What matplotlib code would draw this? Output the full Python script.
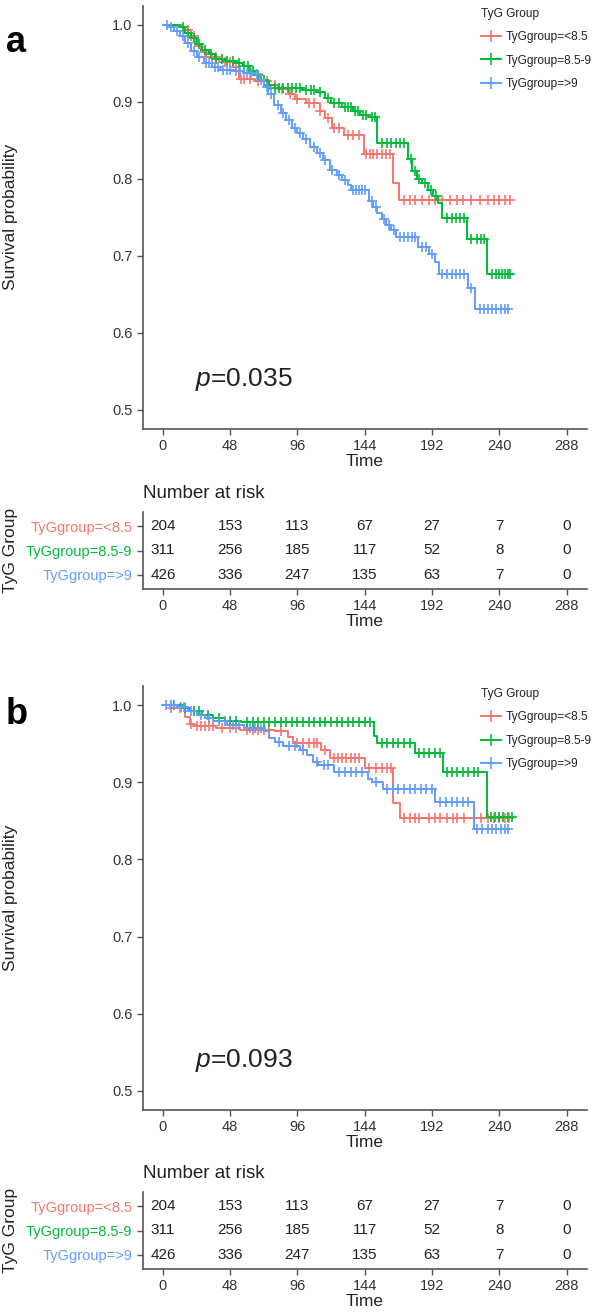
import numpy as np
import matplotlib
matplotlib.use("Agg")
import matplotlib.pyplot as plt
from matplotlib.lines import Line2D

plt.rcParams['font.family'] = ['Liberation Sans', 'DejaVu Sans']
plt.rcParams['mathtext.fontset'] = 'custom'
plt.rcParams['mathtext.rm'] = 'Liberation Sans'
plt.rcParams['mathtext.it'] = 'Liberation Sans:italic'

# ---- data ----
groups = ['TyGgroup=<8.5', 'TyGgroup=8.5-9', 'TyGgroup=>9']
colors = ['#F8766D', '#00BA38', '#619CFF']
time_ticks = [0, 48, 96, 144, 192, 240, 288]
surv_ticks = [0.5, 0.6, 0.7, 0.8, 0.9, 1.0]
risk = [[204, 153, 113, 67, 27, 7, 0],
        [311, 256, 185, 117, 52, 8, 0],
        [426, 336, 247, 135, 63, 7, 0]]

# panel a step curves
a_red_t = [0, 14, 20, 23, 27, 31, 40, 50, 54, 66, 76, 82, 90, 94, 102, 112, 116, 121, 129, 143.5, 164.5, 168.8, 248]
a_red_s = [1.0, 0.994, 0.985, 0.972, 0.965, 0.958, 0.952, 0.946, 0.930, 0.927, 0.922, 0.917, 0.910, 0.904, 0.898, 0.888, 0.879, 0.866, 0.857, 0.832, 0.794, 0.773, 0.773]
a_grn_t = [0, 12, 16, 20, 24, 28, 33, 37, 45, 52, 57, 62, 66, 70, 74, 80, 100, 110, 116, 120, 128, 136, 141, 147, 153, 175, 178, 181, 185, 189, 193, 196, 199.5, 217, 231, 249]
a_grn_s = [1.0, 0.997, 0.990, 0.983, 0.975, 0.968, 0.962, 0.956, 0.953, 0.950, 0.947, 0.940, 0.935, 0.928, 0.922, 0.918, 0.916, 0.913, 0.905, 0.898, 0.893, 0.888, 0.883, 0.880, 0.847, 0.826, 0.810, 0.800, 0.795, 0.786, 0.778, 0.769, 0.749, 0.722, 0.677, 0.677]
a_blu_t = [0, 4, 8, 12, 16, 20, 24, 29, 35, 41, 50, 58, 65, 69, 72, 75, 79, 84, 88, 92, 96, 100, 105, 110, 114, 119, 124, 128, 132, 134, 147, 150, 153, 156, 159, 163, 166, 182, 190, 194, 197, 218, 223, 246]
a_blu_s = [1.0, 0.997, 0.992, 0.985, 0.976, 0.966, 0.958, 0.950, 0.946, 0.942, 0.940, 0.938, 0.936, 0.928, 0.920, 0.910, 0.896, 0.886, 0.876, 0.866, 0.860, 0.852, 0.842, 0.833, 0.824, 0.812, 0.805, 0.798, 0.792, 0.786, 0.771, 0.764, 0.756, 0.748, 0.740, 0.733, 0.725, 0.712, 0.703, 0.692, 0.677, 0.658, 0.631, 0.631]
a_red_c = [18, 20, 22, 30, 35, 38, 44, 48, 52, 56, 58, 62, 68, 74, 80, 85, 91, 96, 104, 108, 112, 118, 122, 126, 132, 136, 140, 145, 148, 150, 153, 156, 159, 162, 172, 176, 180, 185, 190, 194, 199, 205, 210, 214, 220, 226, 232, 236, 240, 244, 248]
a_grn_c = [14, 18, 22, 26, 30, 34, 38, 42, 46, 50, 54, 58, 61, 64, 68, 72, 76, 80, 83, 86, 89, 92, 95, 98, 102, 106, 108, 112, 118, 122, 126, 130, 132, 134, 137, 139, 143, 145, 149, 151, 156, 160, 163, 166, 169, 172, 177, 180, 183, 187, 191, 195, 203, 206, 209, 212, 215, 220, 224, 227, 229, 235, 238, 240, 242, 244, 246, 248]
a_blu_c = [3, 6, 10, 14, 18, 22, 26, 31, 33, 37, 39, 43, 46, 48, 52, 55, 60, 63, 67, 70, 74, 77, 82, 86, 90, 94, 98, 102, 108, 112, 116, 121, 126, 130, 136, 138, 140, 142, 144, 149, 152, 158, 161, 165, 169, 172, 175, 178, 180, 185, 188, 192, 199, 203, 206, 209, 212, 215, 220, 226, 229, 232, 235, 238, 241, 244, 246]

# panel b step curves
b_red_t = [0, 5, 16, 19, 22, 38, 55, 80, 89, 93, 113, 119, 144, 164.5, 169, 247]
b_red_s = [1.0, 0.996, 0.985, 0.976, 0.973, 0.970, 0.968, 0.967, 0.959, 0.951, 0.942, 0.931, 0.918, 0.873, 0.854, 0.854]
b_grn_t = [0, 14, 19, 28, 36, 44, 56, 150.6, 153, 180, 200, 231, 250]
b_grn_s = [1.0, 0.997, 0.993, 0.988, 0.983, 0.980, 0.978, 0.960, 0.951, 0.938, 0.913, 0.855, 0.855]
b_blu_t = [0, 10, 18, 24, 30, 36, 46, 58, 72, 76, 80, 86, 98, 103, 107, 111, 122, 146, 149, 157, 194.5, 221.8, 246]
b_blu_s = [1.0, 0.998, 0.992, 0.987, 0.983, 0.979, 0.974, 0.970, 0.966, 0.958, 0.952, 0.947, 0.942, 0.935, 0.927, 0.922, 0.913, 0.905, 0.900, 0.891, 0.874, 0.840, 0.840]
b_red_c = [6, 12, 20, 24, 27, 30, 33, 36, 42, 48, 52, 60, 64, 68, 72, 76, 84, 96, 100, 104, 108, 110, 116, 122, 125, 128, 131, 134, 137, 140, 147, 152, 156, 160, 163, 172, 176, 180, 183, 190, 194, 198, 203, 207, 210, 215, 222, 227, 232, 236, 240, 244, 247]
b_grn_c = [8, 16, 22, 26, 32, 40, 48, 52, 60, 64, 68, 72, 76, 80, 84, 88, 92, 96, 100, 104, 108, 112, 116, 120, 124, 128, 132, 136, 140, 144, 148, 156, 160, 164, 168, 172, 176, 183, 186, 190, 194, 198, 203, 206, 210, 214, 218, 222, 225, 234, 237, 240, 243, 246, 249]
b_blu_c = [2, 6, 8, 13, 15, 20, 27, 33, 40, 44, 50, 54, 62, 66, 70, 83, 90, 94, 100, 110, 115, 118, 126, 130, 134, 138, 142, 152, 160, 164, 168, 172, 176, 180, 184, 188, 192, 198, 202, 206, 210, 214, 218, 224, 228, 232, 235, 238, 241, 244, 246]

pvals = ['0.035', '0.093']
panel_tags = ['a', 'b']

W, H = 597, 1314
fig = plt.figure(figsize=(W / 100, H / 100), dpi=100)

def rect(left, top, right, bottom):
    return [left / W, 1 - bottom / H, (right - left) / W, (bottom - top) / H]

AX_COL = '#555555'
TXT = '#222222'


def style(ax):
    for s in ['top', 'right']:
        ax.spines[s].set_visible(False)
    for s in ['left', 'bottom']:
        ax.spines[s].set_color(AX_COL)
        ax.spines[s].set_linewidth(1.2)
    ax.tick_params(colors=AX_COL, labelcolor='#333333', length=4, width=1, labelsize=10.5)
    ax.set_xlim(-14.4, 302.4)
    ax.set_xticks(time_ticks)


def surv_at(t, s, x):
    idx = np.searchsorted(t, x, side='right') - 1
    return np.asarray(s)[idx]


def km_panel(ax, curves, pval):
    for (t, s, c), col, lab in zip(curves, colors, groups):
        ax.step(t, s, where='post', color=col, lw=1.4, label=lab)
        ax.plot(c, surv_at(t, s, c), ls='none', marker='+', ms=7, mew=1.2, color=col)
    style(ax)
    ax.set_ylim(0.475, 1.025)
    ax.set_yticks(surv_ticks)
    ax.set_yticklabels([f'{v:.1f}' for v in surv_ticks])
    ax.set_ylabel('Survival probability', fontsize=12.5, color=TXT)
    ax.yaxis.set_label_coords(-0.281, 0.5)
    ax.set_xlabel('Time', fontsize=12.5, color=TXT)
    ax.xaxis.set_label_coords(0.5, -32 / 423.3)
    ax.xaxis.label.set_va('center')
    ax.text(23, 0.539, '$p$=' + pval, fontsize=19, color=TXT, ha='left', va='center')
    handles = [Line2D([], [], color=col, lw=1.4, marker='+', ms=8, mew=1.2) for col in colors]
    leg = ax.legend(handles, groups, title='TyG Group', loc='upper left',
                    frameon=False, fontsize=8.6, title_fontsize=8.6,
                    handlelength=1.7, handletextpad=0.4, labelspacing=0.95,
                    borderpad=0, borderaxespad=0, alignment='left')
    leg.set_bbox_to_anchor(((481 - 142.7) / 444.0, 0.995), transform=ax.transAxes)
    for txt in leg.get_texts():
        txt.set_color(TXT)
    leg.get_title().set_color(TXT)


def risk_panel(ax):
    style(ax)
    ax.set_ylim(3.6, 0.4)
    ax.set_yticks([1, 2, 3])
    ax.set_yticklabels(groups, fontsize=10.5)
    for lab, col in zip(ax.get_yticklabels(), colors):
        lab.set_color(col)
    for i, row in enumerate(risk):
        for tt, n in zip(time_ticks, row):
            ax.text(tt, i + 1, str(n), ha='center', va='center', fontsize=11, color=TXT)
    ax.set_ylabel('TyG Group', fontsize=12.5, color=TXT)
    ax.yaxis.set_label_coords(-0.281, 0.5)
    ax.set_xlabel('Time', fontsize=12.5, color=TXT)
    ax.xaxis.set_label_coords(0.5, -32 / 77)
    ax.xaxis.label.set_va('center')
    ax.text(0, 1 + 18 / 77, 'Number at risk', transform=ax.transAxes,
            ha='left', va='center', fontsize=13.5, color=TXT)


panels = [
    ([(a_red_t, a_red_s, a_red_c), (a_grn_t, a_grn_s, a_grn_c), (a_blu_t, a_blu_s, a_blu_c)],
     (142.7, 5.7, 586.7, 429), (142.7, 512, 586.7, 589), 42),
    ([(b_red_t, b_red_s, b_red_c), (b_grn_t, b_grn_s, b_grn_c), (b_blu_t, b_blu_s, b_blu_c)],
     (142.7, 686, 586.7, 1110), (142.7, 1192, 586.7, 1269), 714),
]

for (curves, main_box, tab_box, tag_y), pval, tag in zip(panels, pvals, panel_tags):
    ax = fig.add_axes(rect(*main_box))
    km_panel(ax, curves, pval)
    axt = fig.add_axes(rect(*tab_box))
    risk_panel(axt)
    fig.text(6 / W, 1 - tag_y / H, tag, fontsize=26, fontweight='bold', ha='left', va='center')

fig.savefig('out.png', dpi=100)
